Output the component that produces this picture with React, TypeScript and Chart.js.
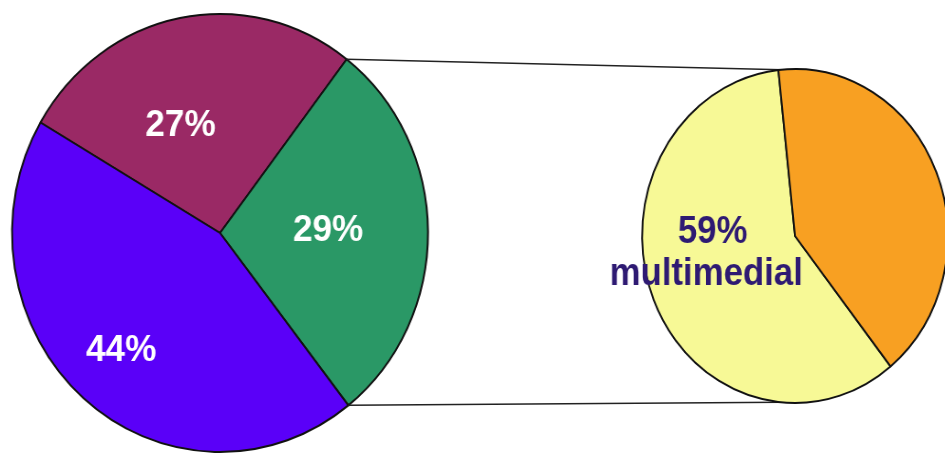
import React, { useEffect, useRef } from 'react';
import { Chart, registerables } from 'chart.js';

Chart.register(...registerables);

// ---- data ----
const mainCategories = ['Quota A', 'Quota B', 'Quota C'];
const mainValues = [27, 29, 44];
const mainLabels = ['27%', '29%', '44%'];
const mainColors = ['#9A2965', '#2A9866', '#5A00F8'];

const subCategories = ['multimedial', 'altro'];
const subValues = [59, 41];
const subLabelLines = ['59%', 'multimedial'];
const subColors = ['#F7F996', '#F8A022'];

// ---- geometry (page pixels) ----
const W = 945;
const H = 455;
const MAIN = { cx: 220, cy: 233, r: 219, sx: 0.95, rotation: -59.7 };
const SUB = { cx: 795, cy: 236, r: 167, sx: 0.916, rotation: 141.35 };
const SPLIT_INDEX = 1;

function layoutFor(g: { cx: number; cy: number; sx: number }) {
  const wInt = Math.round(W / g.sx);
  const s = W / wInt;
  const cxInt = g.cx / s;
  const horiz = 2 * cxInt - wInt;
  const vert = 2 * g.cy - H;
  return {
    wInt,
    s,
    padding: {
      left: horiz > 0 ? horiz : 0,
      right: horiz < 0 ? -horiz : 0,
      top: vert > 0 ? vert : 0,
      bottom: vert < 0 ? -vert : 0,
    },
  };
}

const LM = layoutFor(MAIN);
const LS = layoutFor(SUB);

const deg = Math.PI / 180;

export default function App() {
  const mainRef = useRef<HTMLCanvasElement>(null);
  const subRef = useRef<HTMLCanvasElement>(null);

  useEffect(() => {
    if (!mainRef.current || !subRef.current) return;

    const mainLabelSpec = [
      { da: -9.8, f: 0.533 },
      { da: -1.7, f: 0.52 },
      { da: 0.8, f: 0.712 },
    ];

    const mainLabelPlugin = {
      id: 'mainLabels',
      afterDatasetsDraw(chart: any) {
        const ctx = chart.ctx;
        const arcs = chart.getDatasetMeta(0).data;
        ctx.save();
        ctx.font = 'bold 37px "Liberation Sans", Arial, sans-serif';
        ctx.fillStyle = '#FFFFFF';
        ctx.textAlign = 'center';
        ctx.textBaseline = 'middle';
        arcs.forEach((a: any, i: number) => {
          const spec = mainLabelSpec[i];
          const mid = (a.startAngle + a.endAngle) / 2 + spec.da * deg;
          const r = a.outerRadius * spec.f;
          ctx.fillText(mainLabels[i], a.x + r * Math.cos(mid), a.y + r * Math.sin(mid) + 2);
        });
        ctx.restore();
      },
    };

    const main = new Chart(mainRef.current, {
      type: 'pie',
      data: {
        labels: mainCategories,
        datasets: [
          {
            data: mainValues,
            backgroundColor: mainColors,
            borderColor: '#111111',
            borderWidth: 2,
            radius: MAIN.r,
            rotation: MAIN.rotation,
          } as any,
        ],
      },
      options: {
        animation: false,
        responsive: false,
        events: [],
        layout: { padding: LM.padding },
        plugins: { legend: { display: false }, tooltip: { enabled: false } },
      },
      plugins: [mainLabelPlugin],
    });

    const connectorPlugin = {
      id: 'connectors',
      beforeDatasetsDraw(chart: any) {
        const ctx = chart.ctx;
        const src = main.getDatasetMeta(0).data[SPLIT_INDEX] as any;
        const dst = chart.getDatasetMeta(0).data[0] as any;
        if (!src || !dst) return;
        const R = src.outerRadius;
        const toSub = (x: number) => (x * LM.s) / LS.s;
        const p1 = { x: toSub(src.x + R * Math.cos(src.startAngle)), y: src.y + R * Math.sin(src.startAngle) };
        const p2 = { x: toSub(src.x + R * Math.cos(src.endAngle)), y: src.y + R * Math.sin(src.endAngle) };
        const q1 = { x: dst.x + dst.outerRadius * Math.cos(-95 * deg), y: dst.y + dst.outerRadius * Math.sin(-95 * deg) };
        const q2 = { x: dst.x + dst.outerRadius * Math.cos(95 * deg), y: dst.y + dst.outerRadius * Math.sin(95 * deg) };
        ctx.save();
        ctx.strokeStyle = '#222222';
        ctx.lineWidth = 1.5;
        ctx.beginPath();
        ctx.moveTo(p1.x, p1.y);
        ctx.lineTo(q1.x, q1.y);
        ctx.moveTo(p2.x, p2.y);
        ctx.lineTo(q2.x, q2.y);
        ctx.stroke();
        ctx.restore();
      },
    };

    const subLabelPlugin = {
      id: 'subLabels',
      afterDatasetsDraw(chart: any) {
        const ctx = chart.ctx;
        const a = chart.getDatasetMeta(0).data[0] as any;
        const mid = (a.startAngle + a.endAngle) / 2 + 12.7 * deg;
        const r = a.outerRadius * 0.571;
        const x = a.x + r * Math.cos(mid);
        const y = a.y + r * Math.sin(mid);
        ctx.save();
        ctx.font = 'bold 38px "Liberation Sans", Arial, sans-serif';
        ctx.fillStyle = '#2E1A73';
        ctx.textAlign = 'center';
        ctx.textBaseline = 'middle';
        ctx.fillText(subLabelLines[0], x + 4, y - 20);
        ctx.fillText(subLabelLines[1], x - 3, y + 22);
        ctx.restore();
      },
    };

    const sub = new Chart(subRef.current, {
      type: 'pie',
      data: {
        labels: subCategories,
        datasets: [
          {
            data: subValues,
            backgroundColor: subColors,
            borderColor: '#111111',
            borderWidth: 2,
            radius: SUB.r,
            rotation: SUB.rotation,
          } as any,
        ],
      },
      options: {
        animation: false,
        responsive: false,
        events: [],
        layout: { padding: LS.padding },
        plugins: { legend: { display: false }, tooltip: { enabled: false } },
      },
      plugins: [connectorPlugin, subLabelPlugin],
    });

    return () => {
      sub.destroy();
      main.destroy();
    };
  }, []);

  return (
    <div
      style={{
        position: 'fixed',
        left: 0,
        top: 0,
        width: W,
        height: H,
        overflow: 'hidden',
        background: '#ffffff',
      }}
    >
      <canvas
        ref={mainRef}
        width={LM.wInt}
        height={H}
        style={{
          position: 'absolute',
          left: 0,
          top: 0,
          width: LM.wInt + 'px',
          height: H + 'px',
          transform: `scaleX(${LM.s})`,
          transformOrigin: '0 0',
        }}
      />
      <canvas
        ref={subRef}
        width={LS.wInt}
        height={H}
        style={{
          position: 'absolute',
          left: 0,
          top: 0,
          width: LS.wInt + 'px',
          height: H + 'px',
          transform: `scaleX(${LS.s})`,
          transformOrigin: '0 0',
        }}
      />
    </div>
  );
}
